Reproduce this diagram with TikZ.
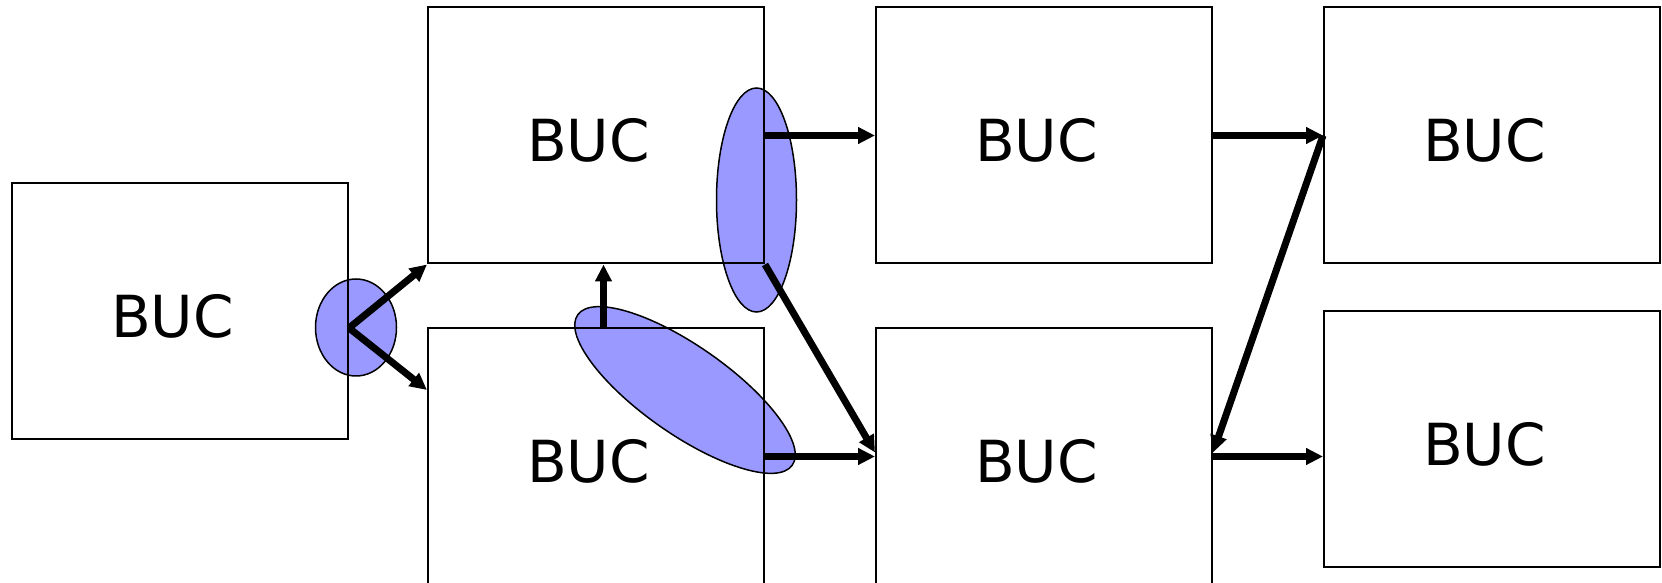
\documentclass[tikz,border=0pt]{standalone}
\usepackage{fontspec}
\setmainfont{DejaVu Sans}
\usetikzlibrary{arrows.meta}
\definecolor{ovalfill}{HTML}{9999FF}

\begin{document}
\begin{tikzpicture}

\tikzstyle{buc} = [rectangle, draw, line width=0.04cm, minimum width=6.72cm, minimum height=5.12cm, text height=30pt, text depth=0pt, font=\fontsize{33}{40}\selectfont, execute at begin node={\hspace*{-0.3cm}}]
\tikzstyle{oval} = [draw, fill=ovalfill, line width=0.03cm]
\tikzstyle{flow} = [line width=0.14cm, -{Triangle[length=0.34cm, width=0.32cm]}]

\useasboundingbox (0,0) rectangle (33.24,11.66);

\draw[oval] (7.12,5.11) ellipse [x radius=0.81cm, y radius=0.97cm];
\draw[oval] (15.13,7.66) ellipse [x radius=0.8cm, y radius=2.24cm];
\draw[oval, rotate around={-35:(13.7,3.86)}] (13.7,3.86) ellipse [x radius=2.62cm, y radius=0.88cm];

\node[buc] (a) at (3.6,5.43) {BUC};
\node[buc] (b) at (11.92,8.95) {BUC};
\node[buc] (c) at (11.92,2.53) {BUC};
\node[buc] (d) at (20.88,8.95) {BUC};
\node[buc] (e) at (20.88,2.53) {BUC};
\node[buc] (f) at (29.84,8.95) {BUC};
\node[buc] (g) at (29.84,2.87) {BUC};

\coordinate (s) at ([yshift=-0.33cm]a.east);

\draw[flow] (s) -- (b.south west);
\draw[flow] (s) -- ([yshift=-1.25cm]c.north west);
\draw[flow] ([xshift=0.15cm]c.north) -- ([xshift=0.15cm]b.south);
\draw[flow] (b.east) -- (d.west);
\draw[flow] (d.east) -- (f.west);
\draw[flow] (b.south east) -- ([yshift=0.08cm]e.west);
\draw[flow] (f.west) -- ([yshift=0.08cm]e.east);
\draw[flow] (c.east) -- (e.west);
\draw[flow] (e.east) -- (e.east -| g.west);

\end{tikzpicture}
\end{document}
